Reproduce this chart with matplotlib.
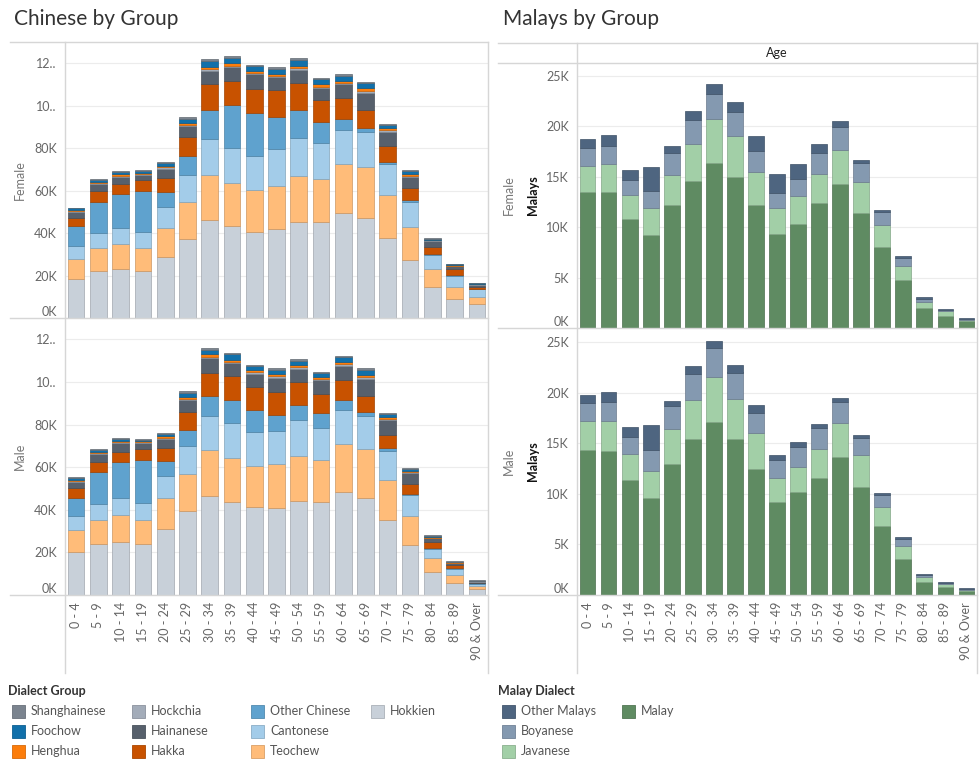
import matplotlib
matplotlib.use("Agg")
import matplotlib.pyplot as plt
from matplotlib.patches import Rectangle
import numpy as np

plt.rcParams['font.family'] = ['Lato', 'DejaVu Sans']

ages = ["0 - 4", "5 - 9", "10 - 14", "15 - 19", "20 - 24", "25 - 29", "30 - 34",
        "35 - 39", "40 - 44", "45 - 49", "50 - 54", "55 - 59", "60 - 64", "65 - 69",
        "70 - 74", "75 - 79", "80 - 84", "85 - 89", "90 & Over"]

# Chinese dialect groups, bottom of stack first (thousands)
chinese_groups = ["Hokkien", "Teochew", "Cantonese", "Other Chinese", "Hakka",
                  "Hainanese", "Hockchia", "Henghua", "Foochow", "Shanghainese"]
chinese_colors = ["#c8d0d9", "#ffbc79", "#a3cce9", "#5fa2ce", "#c85200",
                  "#57606c", "#a3acb9", "#fc7d0b", "#1170aa", "#7b848f"]

hokkien_f = [18.3, 22.1, 23.0, 22.1, 28.7, 37.1, 46.1, 43.4, 40.6, 41.8, 45.1, 45.1, 49.4, 47.0, 37.6, 27.4, 14.7, 9.1, 6.4]
teochew_f = [9.4, 10.8, 11.9, 11.0, 13.9, 17.6, 21.4, 20.4, 19.9, 20.6, 22.0, 20.6, 23.3, 24.1, 20.1, 15.4, 8.5, 5.6, 3.6]
cantonese_f = [6.1, 7.1, 7.4, 7.3, 9.9, 12.8, 16.6, 16.3, 15.8, 17.2, 17.7, 16.6, 15.8, 16.5, 14.9, 11.9, 6.7, 5.2, 3.5]
other_chinese_f = [9.4, 14.7, 16.1, 19.5, 6.9, 8.7, 14.1, 20.0, 20.2, 14.9, 13.4, 10.0, 5.0, 1.9, 0.7, 0.9, 0.3, 0.3, 0.3]
hakka_f = [4.1, 5.2, 4.7, 5.1, 6.6, 8.9, 12.1, 11.6, 11.5, 12.7, 12.7, 10.2, 9.9, 8.4, 7.6, 5.7, 3.3, 2.7, 0.9]
hainanese_f = [2.8, 3.1, 3.5, 2.5, 4.4, 5.3, 6.0, 6.5, 6.7, 6.3, 6.0, 5.8, 6.6, 8.2, 6.9, 5.1, 2.9, 1.5, 1.0]
hockchia_f = [0.4, 0.4, 0.4, 0.4, 0.5, 0.6, 0.8, 0.7, 0.7, 0.6, 0.7, 0.7, 0.7, 0.8, 0.6, 0.5, 0.2, 0.2, 0.2]
henghua_f = [0.6, 0.7, 0.6, 0.6, 0.7, 0.9, 1.2, 1.0, 1.0, 0.9, 1.2, 1.0, 1.0, 1.2, 1.0, 0.8, 0.3, 0.3, 0.2]
foochow_f = [0.5, 0.9, 1.2, 0.7, 1.2, 2.0, 2.8, 2.7, 2.1, 2.5, 2.6, 2.4, 2.5, 2.4, 1.6, 1.4, 0.4, 0.3, 0.3]
shanghainese_f = [0.4, 0.5, 0.5, 0.4, 0.5, 0.6, 1.0, 0.9, 0.7, 0.7, 1.0, 0.7, 0.8, 0.8, 0.5, 0.5, 0.2, 0.2, 0.2]

hokkien_m = [20.2, 23.8, 24.8, 23.8, 31.1, 39.2, 46.3, 43.6, 41.3, 40.8, 43.9, 43.6, 48.2, 45.5, 35.1, 23.5, 10.7, 5.8, 2.8]
teochew_m = [10.2, 11.2, 12.7, 11.2, 14.2, 17.8, 21.6, 20.9, 19.4, 20.5, 21.5, 19.9, 22.9, 22.8, 19.0, 13.5, 6.6, 3.6, 1.4]
cantonese_m = [6.6, 7.5, 8.0, 8.0, 10.7, 13.1, 16.2, 16.0, 15.7, 15.9, 16.5, 15.1, 15.8, 15.5, 13.4, 9.9, 4.4, 3.0, 1.1]
other_chinese_m = [8.7, 15.1, 16.8, 20.2, 6.8, 7.4, 9.3, 11.0, 10.5, 7.5, 7.1, 6.9, 4.7, 1.9, 1.4, 0.5, 0.3, 0.2, 0.2]
hakka_m = [4.4, 5.0, 5.0, 5.1, 6.4, 8.2, 10.6, 11.3, 10.5, 10.5, 10.8, 9.0, 9.3, 7.8, 6.4, 4.8, 2.8, 1.5, 0.3]
hainanese_m = [2.8, 3.5, 4.1, 2.9, 4.1, 5.8, 7.2, 5.9, 6.5, 6.8, 6.4, 6.4, 6.6, 8.0, 6.6, 4.9, 1.9, 1.0, 0.5]
hockchia_m = [0.4, 0.4, 0.4, 0.4, 0.5, 0.6, 0.7, 0.7, 0.6, 0.6, 0.6, 0.6, 0.7, 0.7, 0.6, 0.4, 0.2, 0.1, 0.1]
henghua_m = [0.8, 0.7, 0.6, 0.5, 0.7, 0.9, 1.0, 1.1, 0.9, 1.0, 1.0, 0.9, 1.1, 1.1, 0.9, 0.6, 0.4, 0.2, 0.2]
foochow_m = [0.9, 1.0, 0.9, 0.8, 1.1, 2.0, 2.3, 2.5, 2.0, 2.1, 2.1, 1.8, 2.2, 2.3, 1.6, 1.1, 0.5, 0.3, 0.2]
shanghainese_m = [0.5, 0.4, 0.4, 0.4, 0.5, 0.7, 0.9, 0.8, 0.7, 0.7, 0.7, 0.6, 0.8, 0.8, 0.5, 0.4, 0.3, 0.1, 0.1]

# Malay dialects, bottom of stack first (thousands)
malay_groups = ["Malay", "Javanese", "Boyanese", "Other Malays"]
malay_colors = ["#5f8b62", "#a2cfa7", "#8499b0", "#4e6580"]

malay_f = [13.45, 13.45, 10.8, 9.2, 12.2, 14.6, 16.4, 15.0, 12.2, 9.3, 10.3, 12.4, 14.3, 11.4, 8.0, 4.8, 2.0, 1.2, 0.7]
javanese_f = [2.65, 2.85, 2.4, 2.7, 3.0, 3.7, 4.3, 4.1, 3.3, 2.6, 2.8, 2.9, 3.4, 3.1, 2.2, 1.4, 0.6, 0.5, 0.1]
boyanese_f = [1.8, 1.8, 1.5, 1.7, 2.2, 2.3, 2.5, 2.3, 2.1, 1.5, 1.7, 2.1, 2.2, 1.9, 1.3, 0.7, 0.3, 0.1, 0.1]
other_malays_f = [0.9, 1.1, 1.0, 2.4, 0.7, 0.9, 1.0, 1.0, 1.5, 1.9, 1.5, 0.9, 0.6, 0.3, 0.2, 0.2, 0.2, 0.1, 0.1]

malay_m = [14.3, 14.2, 11.35, 9.6, 13.0, 15.4, 17.1, 15.4, 12.5, 9.2, 10.2, 11.55, 13.6, 10.7, 6.8, 3.6, 1.3, 0.8, 0.4]
javanese_m = [2.9, 3.0, 2.55, 2.7, 3.4, 3.9, 4.5, 4.0, 3.5, 2.4, 2.5, 2.85, 3.4, 3.1, 1.9, 1.2, 0.5, 0.3, 0.1]
boyanese_m = [1.8, 1.9, 1.7, 2.0, 2.25, 2.6, 2.8, 2.6, 2.0, 1.7, 1.9, 2.1, 2.1, 1.7, 1.2, 0.7, 0.2, 0.1, 0.05]
other_malays_m = [0.8, 1.0, 1.0, 2.5, 0.55, 0.7, 0.7, 0.7, 0.75, 0.5, 0.5, 0.4, 0.4, 0.3, 0.2, 0.2, 0.1, 0.1, 0.1]

chinese_ticks = [0, 20, 40, 60, 80, 100, 120]
chinese_ticklabels = ["0K", "20K", "40K", "60K", "80K", "10..", "12.."]
malay_ticks = [0, 5, 10, 15, 20, 25]
malay_ticklabels = ["0K", "5K", "10K", "15K", "20K", "25K"]

chinese_female = [hokkien_f, teochew_f, cantonese_f, other_chinese_f, hakka_f,
                  hainanese_f, hockchia_f, henghua_f, foochow_f, shanghainese_f]
chinese_male = [hokkien_m, teochew_m, cantonese_m, other_chinese_m, hakka_m,
                hainanese_m, hockchia_m, henghua_m, foochow_m, shanghainese_m]
malays_female = [malay_f, javanese_f, boyanese_f, other_malays_f]
malays_male = [malay_m, javanese_m, boyanese_m, other_malays_m]

W, H = 980, 774
fig = plt.figure(figsize=(W / 100, H / 100), dpi=100)

GRID = "#ececec"
LINE = "#d6d6d6"
TICK = "#666666"


def px_axes(x0, y0, x1, y1):
    return fig.add_axes([x0 / W, 1 - y1 / H, (x1 - x0) / W, (y1 - y0) / H])


def darker(c, f=0.8):
    r, g, b = matplotlib.colors.to_rgb(c)
    return (r * f, g * f, b * f)


def stacked(ax, series, colors, ymax, ticks, ticklabels, show_x):
    x = np.arange(len(ages))
    bottom = np.zeros(len(ages))
    for vals, col in zip(series, colors):
        ax.bar(x, vals, 0.75, bottom=bottom, color=col, edgecolor=darker(col),
               linewidth=0.5, zorder=3)
        bottom += np.array(vals)
    ax.set_xlim(-0.5, len(ages) - 0.5)
    ax.set_ylim(0, ymax)
    ax.set_facecolor("none")
    for s in ax.spines.values():
        s.set_visible(False)
    ax.set_yticks(ticks)
    ax.set_yticklabels(ticklabels)
    ax.tick_params(axis="y", length=0, pad=6, labelsize=9, labelcolor=TICK)
    ax.get_yticklabels()[0].set_va("bottom")
    ax.grid(axis="y", color=GRID, linewidth=0.8, zorder=0)
    ax.set_axisbelow(True)
    if show_x:
        ax.set_xticks(x)
        ax.set_xticklabels(ages, rotation=90, va="top")
        ax.tick_params(axis="x", length=0, pad=5, labelsize=9, labelcolor=TICK)
    else:
        ax.set_xticks([])


# Chinese panels
ax_cf = px_axes(65, 42, 488, 318)
stacked(ax_cf, chinese_female, chinese_colors, 130, chinese_ticks, chinese_ticklabels, False)
ax_cm = px_axes(65, 318, 488, 595)
stacked(ax_cm, chinese_male, chinese_colors, 130, chinese_ticks, chinese_ticklabels, True)

# Malay panels
ax_mf = px_axes(577, 63, 977, 328)
stacked(ax_mf, malays_female, malay_colors, 26.3, malay_ticks, malay_ticklabels, False)
ax_mm = px_axes(577, 328, 977, 595)
stacked(ax_mm, malays_male, malay_colors, 26.4, malay_ticks, malay_ticklabels, True)

# overlay in pixel coordinates for frames, titles, legends
ov = fig.add_axes([0, 0, 1, 1], zorder=10)
ov.set_xlim(0, W)
ov.set_ylim(H, 0)
ov.axis("off")
ov.patch.set_visible(False)


def hl(y, x0, x1):
    ov.plot([x0, x1], [y, y], color=LINE, linewidth=1)


def vl(x, y0, y1):
    ov.plot([x, x], [y0, y1], color=LINE, linewidth=1)


hl(42, 10, 488)
hl(318, 10, 488)
hl(595, 10, 488)
vl(65, 42, 673)
vl(488, 42, 673)

hl(43, 498, 977)
hl(63, 498, 977)
hl(328, 498, 977)
hl(595, 498, 977)
vl(577, 43, 673)
vl(977, 43, 673)

ov.text(14, 19, "Chinese by Group", fontsize=15, color="#333333", va="center", ha="left")
ov.text(503, 19, "Malays by Group", fontsize=15, color="#333333", va="center", ha="left")
ov.text(777, 53, "Age", fontsize=9, color="#222222", va="center", ha="center")

ov.text(20, 180, "Female", rotation=90, fontsize=9, color="#777777", va="center", ha="center")
ov.text(20, 456, "Male", rotation=90, fontsize=9, color="#777777", va="center", ha="center")
ov.text(509, 195, "Female", rotation=90, fontsize=9, color="#777777", va="center", ha="center")
ov.text(509, 461, "Male", rotation=90, fontsize=9, color="#777777", va="center", ha="center")
ov.text(533, 195, "Malays", rotation=90, fontsize=9, color="#111111", va="center",
        ha="center", fontweight="bold")
ov.text(533, 461, "Malays", rotation=90, fontsize=9, color="#111111", va="center",
        ha="center", fontweight="bold")

# legends
chinese_legend_order = ["Shanghainese", "Foochow", "Henghua", "Hockchia", "Hainanese",
                        "Hakka", "Other Chinese", "Cantonese", "Teochew", "Hokkien"]
malay_legend_order = ["Other Malays", "Boyanese", "Javanese", "Malay"]


def legend(x0, title, names, groups, colors):
    ov.text(x0 - 4, 691, title, fontsize=9, fontweight="bold", color="#333333",
            va="center", ha="left")
    for i, name in enumerate(names):
        col = colors[groups.index(name)]
        cx = x0 + (i // 3) * 119.5
        cy = 711 + (i % 3) * 20
        ov.add_patch(Rectangle((cx, cy - 6.5), 13, 13, facecolor=col,
                               edgecolor=darker(col, 0.85), linewidth=0.6))
        ov.text(cx + 19, cy, name, fontsize=9, color="#555555", va="center", ha="left")


legend(12, "Dialect Group", chinese_legend_order, chinese_groups, chinese_colors)
legend(502, "Malay Dialect", malay_legend_order, malay_groups, malay_colors)

fig.savefig("out.png", dpi=100, facecolor="white")
